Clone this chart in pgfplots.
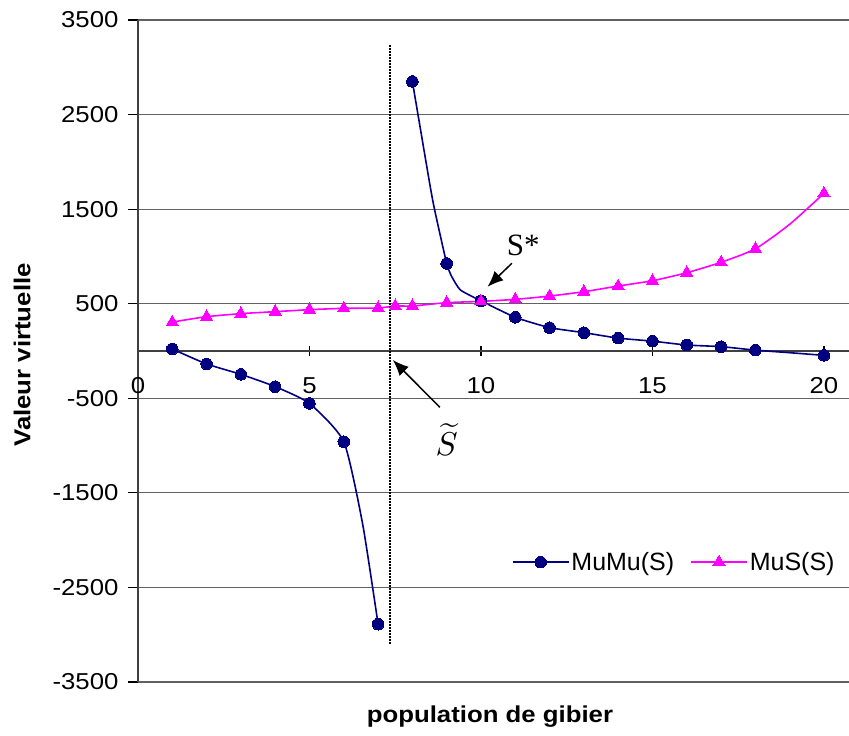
\documentclass[border=0pt]{standalone}
\usepackage{pgfplots}
\pgfplotsset{compat=1.18}
\usepackage{fontspec}
\setmainfont{Liberation Sans}
\newfontfamily\widefont[FakeStretch=1.12]{Liberation Sans}
\newfontfamily\seriffont{Liberation Serif}
\usetikzlibrary{arrows.meta}
\definecolor{navyc}{HTML}{000080}
\definecolor{magc}{HTML}{FF00FF}
\begin{document}
\begin{tikzpicture}
\path[use as bounding box] (-138pt,-54pt) rectangle (711pt,682pt);
\begin{axis}[
 at={(0pt,0pt)}, anchor=south west,
 scale only axis, width=711pt, height=662pt,
 xmin=0, xmax=20.73, ymin=-3500, ymax=3500,
 axis x line=middle, axis y line=left,
 axis line style={-, black!75, line width=1.2pt},
 hide obscured x ticks=false, hide obscured y ticks=false,
 xtick={0,5,...,20}, ytick={-3500,-2500,...,3500},
 scaled ticks=false,
 /pgf/number format/assume math mode=true,
 /pgf/number format/1000 sep={},
 ticklabel style={font=\widefont\fontsize{23}{23}\selectfont},
 ymajorgrids, grid style={black!62, line width=1.2pt},
 xtick align=center, ytick align=outside,
 major tick length=10pt,
 tick style={black, line width=1.2pt},
 xticklabel style={yshift=-18pt},
 yticklabel style={xshift=-6pt},
 xlabel={\textbf{population de gibier}},
 ylabel={\textbf{Valeur virtuelle}},
 every axis x label/.style={at={(axis description cs:0.495,-0.053)}, anchor=center, font=\widefont\fontsize{23}{23}\selectfont},
 every axis y label/.style={at={(axis description cs:-0.163,0.494)}, rotate=90, anchor=center, font=\widefont\fontsize{23}{23}\selectfont},
 legend style={at={(0.987,0.181)}, anchor=east, draw=none, fill=white,
   font=\fontsize{25}{25}\selectfont, /tikz/every even column/.append style={column sep=14pt}},
 legend columns=2,
 legend image code/.code={\draw[mark indices={2}] plot coordinates {(0pt,0pt) (28pt,0pt) (56pt,0pt)};},
]
% MuMu(S), left branch
\addplot[navyc, line width=1.6pt, smooth, tension=0.35, mark=*, mark size=5.8pt,
  mark options={fill=navyc, draw=navyc, line width=0pt}, mark indices={1,2,3,4,5,6,8}]
  coordinates {(1,21) (2,-137) (3,-247) (4,-377) (5,-555) (6,-959) (6.55,-1830) (7,-2889)};
\addlegendentry{MuMu(S)}
% MuMu(S), right branch
\addplot[navyc, line width=1.6pt, smooth, tension=0.3, mark=*, mark size=5.8pt,
  mark options={fill=navyc, draw=navyc, line width=0pt}, mark indices={1,4,7,8,9,10,11,12,13,14,15,17}, forget plot]
  coordinates {(8,2850) (8.5,1780) (8.65,1490) (9,925) (9.15,785) (9.4,645) (10,530) (11,356) (12,247) (13,194) (14,136) (15,104) (16,63) (17,46) (18,9) (19,-18) (20,-46)};
% MuS(S)
\addplot[magc, line width=1.6pt, smooth, tension=0.4, mark=triangle*, mark size=7pt,
  mark options={fill=magc, draw=magc, line width=0pt}, mark indices={1,2,3,4,5,6,7,8,9,10,11,12,13,14,15,16,17,18,19,21}]
  coordinates {(1,306) (2,363) (3,395) (4,416) (5,437) (6,451) (7,455) (7.5,476) (8,476) (9,511) (10,525) (11,546) (12,581) (13,627) (14,687) (15,743) (16,828) (17,938) (18,1081) (19,1340) (20,1667)};
\addlegendentry{MuS(S)}
% dotted vertical line
\addplot[black, line width=1.5pt, dash pattern=on 1.5pt off 1.5pt, forget plot] coordinates {(7.35,3235) (7.35,-3108)};
\draw[-{Latex[length=16pt,width=13pt]}, line width=1.5pt] (axis cs:10.9,927) -- (axis cs:10.19,679);
\draw[-{Latex[length=16pt,width=13pt]}, line width=1.5pt] (axis cs:8.8,-595) -- (axis cs:7.43,-95);
\node[font=\seriffont\fontsize{31}{31}\selectfont, inner sep=0pt] at (axis cs:11.23,1120) {S*};
\node[scale=3.3, inner sep=0pt] at (axis cs:9.0,-940) {$\widetilde{S}$};
\end{axis}
\end{tikzpicture}
\end{document}
